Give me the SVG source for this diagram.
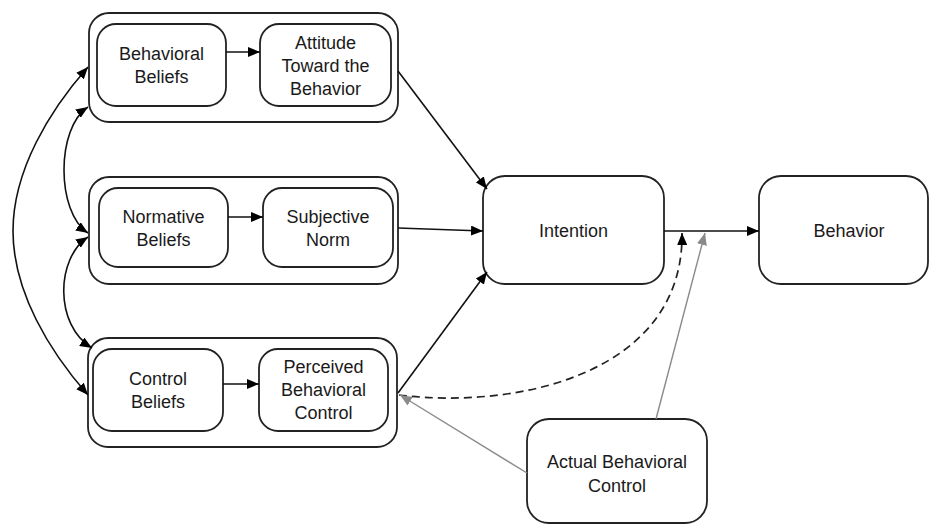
<svg xmlns="http://www.w3.org/2000/svg" width="930" height="524" viewBox="0 0 930 524">
<style>
.box{fill:#fff;stroke:#222;stroke-width:1.8}
.t{font-family:"Liberation Sans",Arial,sans-serif;font-size:18px;fill:#1a1a1a;text-anchor:middle}
.ln{fill:none;stroke:#111;stroke-width:1.6}
.gr{fill:none;stroke:#8a8a8a;stroke-width:1.4}
.da{fill:none;stroke:#222;stroke-width:1.7;stroke-dasharray:8 5}
</style>
<defs>
<marker id="ah" markerWidth="12" markerHeight="10" refX="12" refY="5" orient="auto-start-reverse" markerUnits="userSpaceOnUse">
<path d="M0,0 L12,5 L0,10 z" fill="#000"/>
</marker>
<marker id="ahg" markerWidth="12" markerHeight="10" refX="12" refY="5" orient="auto" markerUnits="userSpaceOnUse">
<path d="M0,0 L12,5 L0,10 z" fill="#8a8a8a"/>
</marker>
</defs>

<g id="group-behavioral">
<rect class="box" x="89" y="13" width="309" height="109" rx="20"/>
<g id="behavioral-beliefs">
<rect class="box" x="97" y="24" width="129" height="82" rx="19"/>
<text class="t" x="161.5" y="60">Behavioral</text>
<text class="t" x="161.5" y="83">Beliefs</text>
</g>
<g id="attitude">
<rect class="box" x="260" y="24" width="131" height="82" rx="19"/>
<text class="t" x="325.5" y="49">Attitude</text>
<text class="t" x="325.5" y="72">Toward the</text>
<text class="t" x="325.5" y="95">Behavior</text>
</g>
</g>

<g id="group-normative">
<rect class="box" x="89" y="177" width="309" height="107" rx="20"/>
<g id="normative-beliefs">
<rect class="box" x="99" y="188" width="129" height="79" rx="19"/>
<text class="t" x="163.5" y="223">Normative</text>
<text class="t" x="163.5" y="246">Beliefs</text>
</g>
<g id="subjective-norm">
<rect class="box" x="263" y="188" width="130" height="79" rx="19"/>
<text class="t" x="328" y="223">Subjective</text>
<text class="t" x="328" y="246">Norm</text>
</g>
</g>

<g id="group-control">
<rect class="box" x="88" y="338" width="309" height="109" rx="20"/>
<g id="control-beliefs">
<rect class="box" x="93" y="349" width="130" height="82" rx="19"/>
<text class="t" x="158" y="385">Control</text>
<text class="t" x="158" y="408">Beliefs</text>
</g>
<g id="perceived-control">
<rect class="box" x="259" y="349" width="129" height="82" rx="19"/>
<text class="t" x="323.5" y="373">Perceived</text>
<text class="t" x="323.5" y="396">Behavioral</text>
<text class="t" x="323.5" y="419">Control</text>
</g>
</g>

<g id="intention">
<rect class="box" x="483" y="176" width="181" height="108" rx="22"/>
<text class="t" x="573.5" y="237">Intention</text>
</g>

<g id="behavior">
<rect class="box" x="759" y="176" width="169" height="108" rx="22"/>
<text class="t" x="849" y="237">Behavior</text>
</g>

<g id="actual-control">
<rect class="box" x="527" y="419" width="180" height="104" rx="22"/>
<text class="t" x="617" y="468">Actual Behavioral</text>
<text class="t" x="617" y="492">Control</text>
</g>

<g id="connectors">
<line class="ln" x1="226" y1="52" x2="260" y2="52" marker-end="url(#ah)"/>
<line class="ln" x1="228" y1="217" x2="263" y2="217" marker-end="url(#ah)"/>
<line class="ln" x1="223" y1="384" x2="259" y2="384" marker-end="url(#ah)"/>
<line class="ln" x1="398" y1="71" x2="487" y2="189" marker-end="url(#ah)"/>
<line class="ln" x1="398" y1="228" x2="483" y2="231" marker-end="url(#ah)"/>
<line class="ln" x1="398" y1="393" x2="487" y2="272" marker-end="url(#ah)"/>
<line class="ln" x1="664" y1="231" x2="759" y2="231" marker-end="url(#ah)"/>
<path class="ln" d="M88,67 C50,110 13,170 13,231 C13,292 50,352 88,395" marker-start="url(#ah)" marker-end="url(#ah)"/>
<path class="ln" d="M88,107 C56,128 56,212 88,233" marker-start="url(#ah)" marker-end="url(#ah)"/>
<path class="ln" d="M88,237 C56,258 54,325 92,348" marker-start="url(#ah)" marker-end="url(#ah)"/>
<path class="da" d="M399,395 C520,410 684,372 682,233" marker-end="url(#ah)"/>
<line class="gr" x1="656" y1="419" x2="705" y2="233" marker-end="url(#ahg)"/>
<line class="gr" x1="527" y1="473" x2="400" y2="395" marker-end="url(#ahg)"/>
</g>
</svg>
